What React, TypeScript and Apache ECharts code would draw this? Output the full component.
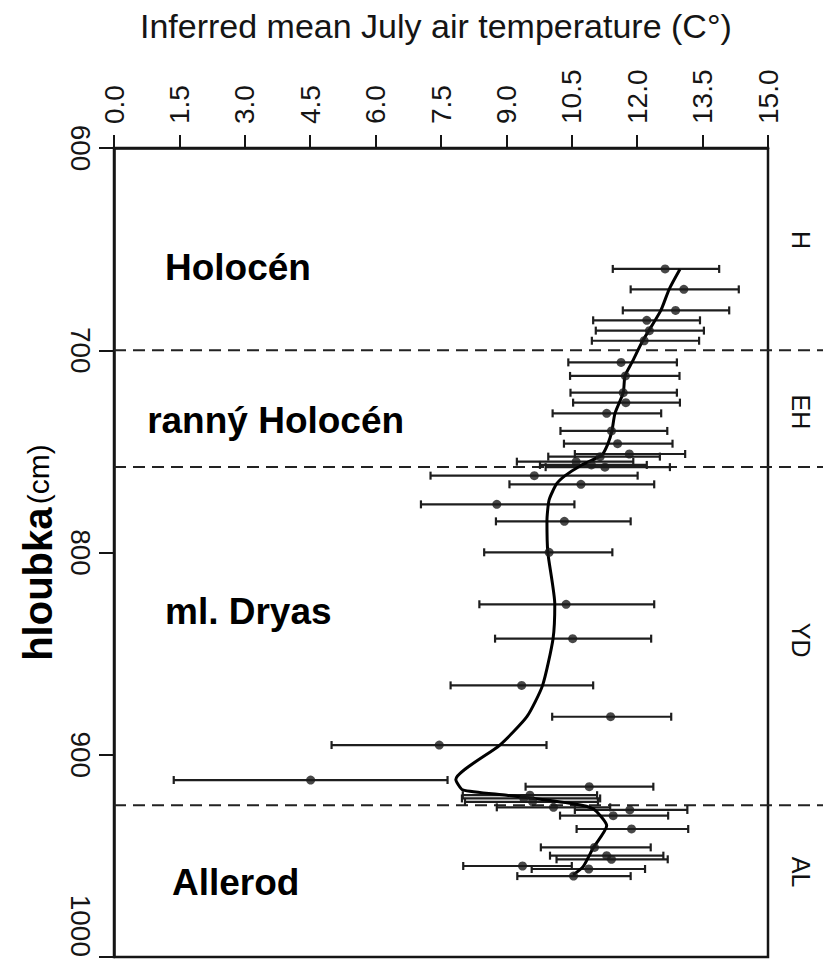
import React, { useEffect, useRef } from "react";
import * as echarts from "echarts";

const FONT = "'Liberation Sans', Arial, Helvetica, sans-serif";

const titleText = "Inferred mean July air temperature (C°)";
const depthAxisName = "hloubka";
const depthAxisUnit = "(cm)";

// sample points: depth (cm), inferred temperature (°C), error range
const pointDepth = [659.8, 669.9, 680.3, 685.2, 690.3, 695.3, 706.0, 712.7, 721.0, 725.9, 731.2, 739.9, 746.2, 751.3, 752.6, 755.1, 756.7, 757.8, 762.0, 766.3, 776.2, 784.6, 799.9, 825.6, 842.6, 865.7, 881.2, 895.2, 912.5, 915.8, 920.0, 921.6, 923.3, 926.0, 927.3, 930.1, 936.7, 945.8, 949.9, 951.7, 955.0, 956.5, 960.0];
const pointTemp = [12.64, 13.07, 12.88, 12.22, 12.28, 12.16, 11.63, 11.73, 11.68, 11.74, 11.30, 11.41, 11.55, 11.82, 11.15, 10.6, 10.95, 11.26, 9.64, 10.71, 8.78, 10.33, 9.98, 10.37, 10.52, 9.35, 11.39, 7.46, 4.51, 10.90, 9.54, 9.4, 9.6, 10.08, 11.83, 11.45, 11.87, 11.02, 11.30, 11.41, 9.37, 10.89, 10.54];
const errLow = [11.44, 11.85, 11.67, 10.99, 11.05, 10.96, 10.42, 10.46, 10.47, 10.53, 10.06, 10.24, 10.32, 10.57, 9.96, 9.24, 9.77, 9.9, 7.26, 9.07, 7.04, 8.76, 8.49, 8.38, 8.74, 7.72, 10.05, 4.99, 1.37, 9.44, 8.00, 7.98, 8.05, 8.78, 10.57, 10.23, 10.61, 9.79, 10.0, 10.15, 8.01, 9.58, 9.25];
const errHigh = [13.88, 14.33, 14.11, 13.44, 13.53, 13.42, 12.91, 12.97, 12.91, 12.98, 12.55, 12.69, 12.81, 13.10, 12.52, 11.91, 12.22, 12.75, 12.01, 12.39, 10.56, 11.85, 11.43, 12.39, 12.32, 10.99, 12.78, 9.92, 7.65, 12.37, 11.08, 11.15, 11.10, 11.38, 13.15, 12.71, 13.17, 12.31, 12.6, 12.70, 10.5, 12.18, 11.85];

// smoothed curve
const curveDepth = [660, 670, 680.4, 695.2, 706, 712.7, 721, 731.2, 739.9, 746.2, 751.8, 757.2, 762.1, 766.1, 774, 784.4, 799.9, 825.6, 842.6, 865.7, 881.2, 895.2, 912.2, 917.4, 920.0, 924.2, 926.7, 935.1, 946.1, 955.3, 959.4];
const curveTemp = [12.98, 12.73, 12.54, 12.13, 11.88, 11.72, 11.68, 11.49, 11.42, 11.33, 11.19, 10.69, 10.34, 10.15, 9.98, 9.93, 9.95, 10.11, 10.07, 9.83, 9.47, 8.85, 7.84, 8.00, 9.01, 10.53, 10.99, 11.30, 10.99, 10.76, 10.53];

// zones
const zoneBounds = [700, 757.7, 925];
const zoneCodes = ["H", "EH", "YD", "AL"];
const zoneCodeDepth = [645.5, 730.5, 843.3, 958];
const zoneNames = ["Holocén", "ranný Holocén", "ml. Dryas", "Allerod"];
const zoneNameDepth = [659, 734.5, 829, 963];
const zoneNameTemp = [1.17, 0.76, 1.17, 1.33];

export default function App() {
  const ref = useRef<HTMLDivElement>(null);
  useEffect(() => {
    if (!ref.current) return;
    const chart = echarts.init(ref.current, undefined, { renderer: "svg" });
    const ink = "#151515";
    chart.setOption({
      animation: false,
      backgroundColor: "#fff",
      title: {
        text: titleText,
        left: 135,
        top: 4,
        textStyle: { fontSize: 34, fontWeight: "normal", color: ink, fontFamily: FONT },
      },
      grid: {
        left: 114,
        right: 70,
        top: 148,
        bottom: 12,
        outerBoundsMode: "none",
        containLabel: false,
        show: true,
        borderColor: ink,
        borderWidth: 2.5,
        backgroundColor: "transparent",
      },
      xAxis: {
        type: "value",
        position: "top",
        min: 0,
        max: 15,
        interval: 1.5,
        axisLine: { show: true, lineStyle: { color: ink, width: 2.5 } },
        axisTick: { show: true, length: 13, lineStyle: { color: ink, width: 2 } },
        axisLabel: {
          rotate: -90,
          fontSize: 28,
          color: ink,
          fontFamily: FONT,
          margin: 24,
          formatter: (v: number) => v.toFixed(1),
        },
        splitLine: { show: false },
      },
      yAxis: {
        type: "value",
        inverse: true,
        min: 600,
        max: 1000,
        interval: 100,
        name: `{b|${depthAxisName}} {r|${depthAxisUnit}}`,
        nameLocation: "middle",
        nameRotate: 90,
        nameGap: 56,
        nameTextStyle: {
          color: "#000",
          fontFamily: FONT,
          rich: {
            b: { fontSize: 40, fontWeight: "bold", fontFamily: FONT, color: "#000" },
            r: { fontSize: 30, fontFamily: FONT, color: "#000" },
          },
        },
        axisLine: { show: true, lineStyle: { color: ink, width: 2.5 } },
        axisTick: { show: true, length: 15, lineStyle: { color: ink, width: 2 } },
        axisLabel: {
          rotate: -90,
          fontSize: 28,
          color: ink,
          fontFamily: FONT,
          margin: 20,
          alignMaxLabel: "right",
          formatter: (v: number) => String(v),
        },
        splitLine: { show: false },
      },
      series: [
        {
          type: "custom",
          clip: false,
          silent: true,
          data: zoneBounds.map((d) => [0, d]),
          encode: { x: 0, y: 1 },
          renderItem: (_p: any, api: any) => {
            const d = api.value(1);
            const l = api.coord([0, d]);
            const r = api.coord([15, d]);
            return {
              type: "line",
              shape: { x1: l[0], y1: l[1], x2: r[0] + 55, y2: r[1] },
              style: { stroke: "#222", lineWidth: 2, lineDash: [12, 7] },
            };
          },
          z: 1,
        },
        {
          type: "custom",
          silent: true,
          data: pointDepth.map((d, i) => [errLow[i], errHigh[i], d]),
          encode: { x: [0, 1], y: 2 },
          renderItem: (_p: any, api: any) => {
            const a = api.coord([api.value(0), api.value(2)]);
            const b = api.coord([api.value(1), api.value(2)]);
            const style = { stroke: "#1e1e1e", lineWidth: 2.2 };
            return {
              type: "group",
              children: [
                { type: "line", shape: { x1: a[0], y1: a[1], x2: b[0], y2: b[1] }, style },
                { type: "line", shape: { x1: a[0], y1: a[1] - 4, x2: a[0], y2: a[1] + 4 }, style },
                { type: "line", shape: { x1: b[0], y1: b[1] - 4, x2: b[0], y2: b[1] + 4 }, style },
              ],
            };
          },
          z: 2,
        },
        {
          type: "line",
          data: curveTemp.map((t, i) => [t, curveDepth[i]]),
          showSymbol: false,
          smooth: 0.2,
          lineStyle: { color: "#000", width: 3 },
          z: 3,
        },
        {
          type: "scatter",
          data: pointTemp.map((t, i) => [t, pointDepth[i]]),
          symbolSize: 9,
          itemStyle: { color: "#1a1a1a" },
          z: 4,
        },
        {
          type: "custom",
          clip: false,
          silent: true,
          data: zoneCodeDepth.map((d, i) => [15, d, i]),
          encode: { x: 0, y: 1 },
          renderItem: (_p: any, api: any) => {
            const p = api.coord([api.value(0), api.value(1)]);
            return {
              type: "text",
              x: p[0] + 33,
              y: p[1],
              rotation: -Math.PI / 2,
              style: {
                text: zoneCodes[api.value(2)],
                fontSize: 25,
                fontFamily: FONT,
                fill: "#111",
                align: "center",
                verticalAlign: "middle",
              },
            };
          },
        },
        {
          type: "custom",
          clip: false,
          silent: true,
          data: zoneNameDepth.map((d, i) => [zoneNameTemp[i], d, i]),
          encode: { x: 0, y: 1 },
          renderItem: (_p: any, api: any) => {
            const p = api.coord([api.value(0), api.value(1)]);
            return {
              type: "text",
              x: p[0],
              y: p[1],
              style: {
                text: zoneNames[api.value(2)],
                fontSize: 37,
                fontWeight: "bold",
                fontFamily: FONT,
                fill: "#000",
                align: "left",
                verticalAlign: "middle",
              },
            };
          },
        },
      ],
    });
    return () => chart.dispose();
  }, []);
  return (
    <div
      ref={ref}
      style={{ position: "absolute", left: 0, top: 0, width: 838, height: 969, background: "#fff" }}
    />
  );
}
